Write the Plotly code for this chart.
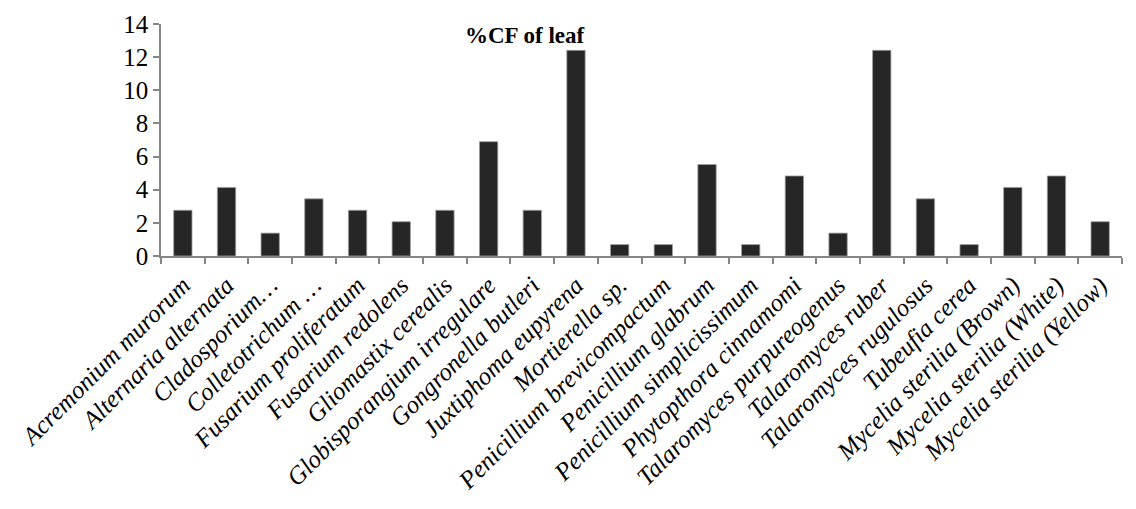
import plotly.graph_objects as go

categories = [
    "Acremonium murorum", "Alternaria alternata", "Cladosporium…", "Colletotrichum …",
    "Fusarium proliferatum", "Fusarium redolens", "Gliomastix cerealis",
    "Globisporangium irregulare", "Gongronella butleri", "Juxtiphoma eupyrena",
    "Mortierella sp.", "Penicillium brevicompactum", "Penicillium glabrum",
    "Penicillium simplicissimum", "Phytopthora cinnamomi", "Talaromyces purpureogenus",
    "Talaromyces ruber", "Talaromyces rugulosus", "Tubeufia cerea",
    "Mycelia sterilia (Brown)", "Mycelia sterilia (White)", "Mycelia sterilia (Yellow)",
]
values = [2.76, 4.14, 1.38, 3.45, 2.76, 2.07, 2.76, 6.90, 2.76, 12.41, 0.69,
          0.69, 5.52, 0.69, 4.83, 1.38, 12.41, 3.45, 0.69, 4.14, 4.83, 2.07]
y_ticks = [0, 2, 4, 6, 8, 10, 12, 14]
title_text = "%CF of leaf"

# page has an 8px body margin; figure drawn at 1120x493 to fit the 1136x509 window
W, H = 1120, 493
L, R, T, B = 153, 6, 16, 245
plot_w = W - L - R

fig = go.Figure(go.Bar(
    x=categories, y=values,
    marker=dict(color="#262626", line=dict(color="#a0a0a0", width=0.8)),
))
fig.update_layout(
    width=W, height=H,
    margin=dict(l=L, r=R, t=T, b=B),
    paper_bgcolor="white", plot_bgcolor="white",
    bargap=0.58,
    showlegend=False,
    font=dict(family="Liberation Serif", color="black"),
    annotations=[dict(text="<b>" + title_text + "</b>", xref="paper", yref="paper",
                      x=(525 - 161) / plot_w, y=1.015, xanchor="center", yanchor="top",
                      showarrow=False, font=dict(size=23, family="Liberation Serif", color="black"))],
)
fig.update_xaxes(
    automargin=False,
    showline=True, linecolor="#868686", linewidth=1.5,
    ticks="outside", tickson="boundaries", ticklen=6, tickcolor="#868686", tickwidth=1.5,
    tickangle=-45, ticklabelstandoff=3,
    tickfont=dict(size=25, family="Liberation Serif", color="black"),
    showgrid=False,
    tickvals=categories, ticktext=["<i>" + c + "</i>" for c in categories],
)
fig.update_yaxes(
    automargin=False,
    range=[0, 14], tickvals=y_ticks,
    showline=True, linecolor="#868686", linewidth=1.5,
    ticks="outside", ticklen=6, tickcolor="#868686", tickwidth=1.5,
    tickfont=dict(size=25, family="Liberation Serif", color="black"),
    showgrid=False, zeroline=False,
)
fig.write_html("out.html")
